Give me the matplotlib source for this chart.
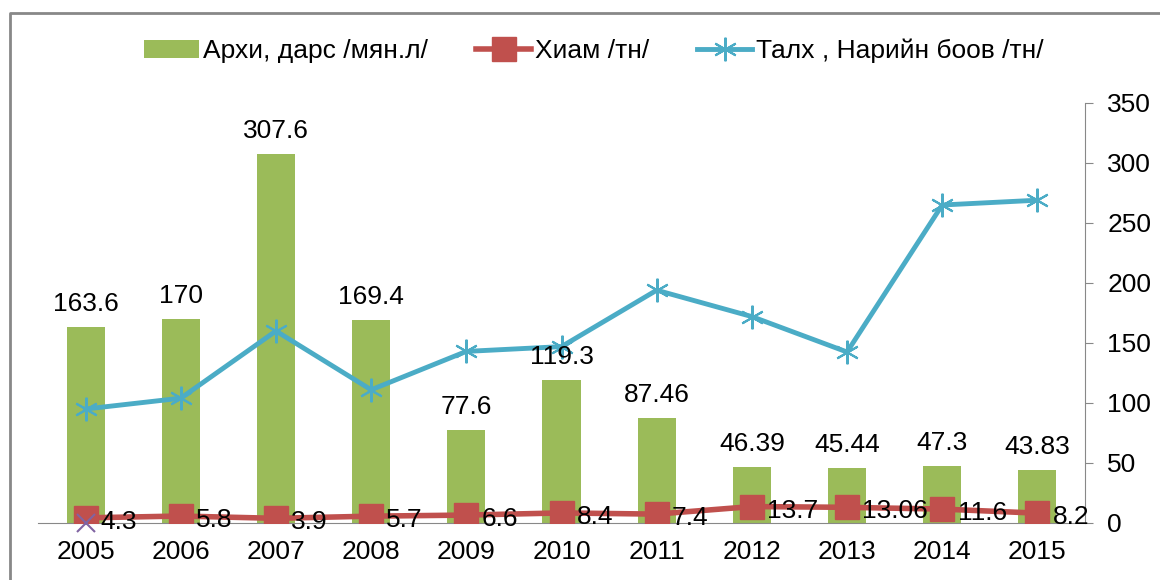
import matplotlib.pyplot as plt
from matplotlib.lines import Line2D
import numpy as np

plt.rcParams['font.family'] = ['Liberation Sans', 'DejaVu Sans']

years = ['2005', '2006', '2007', '2008', '2009', '2010',
         '2011', '2012', '2013', '2014', '2015']
arkhi = [163.6, 170, 307.6, 169.4, 77.6, 119.3, 87.46, 46.39, 45.44, 47.3, 43.83]
khiam = [4.3, 5.8, 3.9, 5.7, 6.6, 8.4, 7.4, 13.7, 13.06, 11.6, 8.2]
talkh = [95, 104, 160, 111, 143, 147, 194, 172, 142.5, 265, 269]
yticks = [0, 50, 100, 150, 200, 250, 300, 350]

green = '#9BBB59'
red = '#C0504D'
blue = '#4BACC6'
purple = '#8064A2'
fs = 19

fig = plt.figure(figsize=(11.6, 5.8), dpi=100)
ax = fig.add_axes([38 / 1160, 1 - 523 / 580, (1085 - 38) / 1160, 420 / 580])

x = np.arange(len(years))
b = ax.bar(x, arkhi, width=0.4, color=green, zorder=2, label='Архи, дарс /мян.л/')
l1, = ax.plot(x, khiam, color=red, lw=4, marker='s', ms=17, zorder=3,
              label='Хиам /тн/')
l2, = ax.plot(x, talkh, color=blue, lw=3.5, marker=(6, 2, 0), ms=17, mew=1.5,
              zorder=3, label='Талх , Нарийн боов /тн/')
# stray marker at 2005
ax.plot([x[0]], [0], marker='x', color=purple, ms=13, mew=1.5, zorder=5,
        clip_on=False)

for xi, v in zip(x, arkhi):
    ax.annotate(f'{v:g}', (xi, v), xytext=(0, 8), textcoords='offset points',
                ha='center', va='bottom', fontsize=fs)
for xi, v in zip(x, khiam):
    ax.annotate(f'{v:g}', (xi, v), xytext=(11, -3), textcoords='offset points',
                ha='left', va='center', fontsize=fs)

ax.set_xlim(-0.5, len(years) - 0.5)
ax.set_ylim(0, 350)
ax.set_xticks(x)
ax.set_xticklabels(years, fontsize=fs)
ax.tick_params(axis='x', length=0, pad=12)
ax.yaxis.tick_right()
ax.set_yticks(yticks)
ax.tick_params(axis='y', labelsize=fs, length=6, direction='out',
               color='#888888', pad=10)
for s in ['left', 'top']:
    ax.spines[s].set_visible(False)
ax.spines['right'].set_color('#888888')
ax.spines['bottom'].set_color('#888888')

fig.legend(handles=[b, l1, l2], loc='center',
           bbox_to_anchor=(594 / 1160, 1 - 51 / 580), ncol=3,
           frameon=False, fontsize=fs, handlelength=2.1, handletextpad=0.15,
           columnspacing=1.8)

# outer chart border (cropped at right and bottom)
fig.add_artist(Line2D([10 / 1160, 10 / 1160, 1.0], [0, 1 - 13 / 580, 1 - 13 / 580],
                      transform=fig.transFigure, color='#888888', lw=2))

fig.savefig('out.png', dpi=100)
